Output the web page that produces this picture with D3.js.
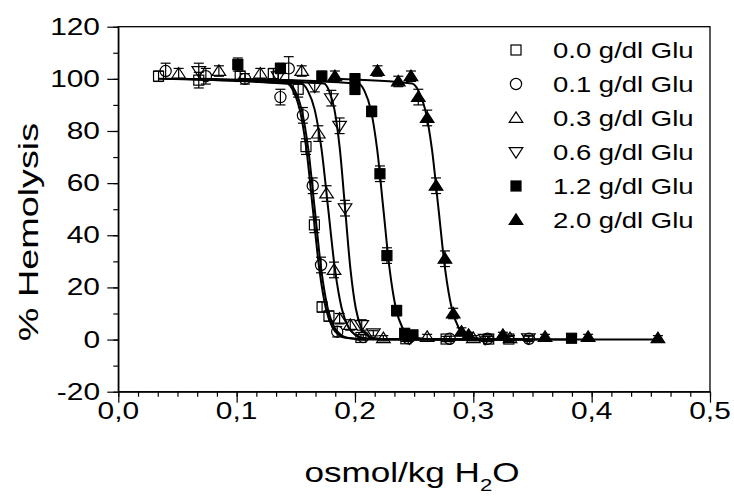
<!DOCTYPE html>
<html>
<head>
<meta charset="utf-8">
<script src="https://cdn.jsdelivr.net/npm/d3@7/dist/d3.min.js"></script>
<style>
  body { margin: 0; background: #fff; }
  text { font-family: Arial, "Liberation Sans", sans-serif; fill: #000; }
</style>
</head>
<body>
<svg id="chart" width="734" height="499"></svg>
<script>
// legend labels and symbol kinds
const labels = ["0.0 g/dl Glu", "0.1 g/dl Glu", "0.3 g/dl Glu", "0.6 g/dl Glu", "1.2 g/dl Glu", "2.0 g/dl Glu"];
const kinds = ["square", "circle", "up", "down", "squareFill", "upFill"];

const xTicks = [0, 0.1, 0.2, 0.3, 0.4, 0.5];
const yTicks = [-20, 0, 20, 40, 60, 80, 100, 120];

// measured points: [osmol/kg, % hemolysis, error]
const glu00 = [[0.034, 101, 2], [0.068, 99.5, 3], [0.103, 101, 2], [0.131, 102, 2], [0.152, 96, 3], [0.1586, 74, 3],
  [0.1657, 44, 3], [0.1722, 12.5, 2], [0.178, 9, 2], [0.205, 0.8, 1], [0.243, 0.3, 1], [0.277, 0.2, 1], [0.313, 0.2, 1], [0.33, 0.2, 1]];
const glu01 = [[0.04, 103, 3], [0.074, 101, 3], [0.107, 100, 2], [0.137, 93, 3], [0.144, 104, 4.5], [0.156, 86, 3],
  [0.1643, 59, 3], [0.1713, 28.6, 3], [0.185, 3, 2], [0.207, 1, 1], [0.245, 0.5, 1], [0.28, 0.3, 1], [0.312, 0.3, 1], [0.347, 0.3, 1]];
const glu03 = [[0.051, 102, 2], [0.085, 103, 2], [0.12, 102, 2], [0.155, 103, 2], [0.169, 79, 3], [0.176, 56, 3],
  [0.1823, 26.7, 3], [0.187, 8, 2], [0.196, 5.6, 2], [0.224, 0.5, 1], [0.261, 1, 1], [0.3, 0.5, 1], [0.331, 0.5, 1]];
const glu06 = [[0.068, 103, 3], [0.135, 101, 2], [0.166, 97, 2], [0.18, 92.6, 3], [0.187, 82, 3], [0.1916, 50.4, 3],
  [0.2057, 5.6, 2], [0.2155, 2.4, 1], [0.246, 0.5, 1], [0.31, 0.3, 1], [0.3465, 0.5, 1]];
const glu12 = [[0.101, 105.5, 2.5], [0.137, 104, 2], [0.172, 101, 2], [0.2, 100, 2], [0.2, 96, 2], [0.2141, 87.5, 2],
  [0.2211, 63.6, 3], [0.227, 32.2, 3], [0.2352, 11.1, 2], [0.242, 2.4, 1], [0.249, 1.8, 1], [0.383, 0.5, 1]];
const glu20 = [[0.183, 101, 2], [0.219, 103, 2], [0.2366, 99, 2], [0.2473, 101, 2], [0.2535, 93, 3], [0.261, 85, 3],
  [0.2685, 59, 3], [0.276, 31, 3], [0.283, 10, 2], [0.29, 3, 1.5], [0.296, 1.8, 1], [0.325, 1.8, 1], [0.3606, 1, 1],
  [0.397, 1, 1], [0.456, 0.5, 1]];

// fitted curves, knots
const fit00 = [[0.034, 100], [0.1424, 98.2], [0.1479, 95.3], [0.1534, 88.1], [0.1589, 73.1], [0.1644, 50], [0.1699, 26.9],
  [0.1754, 11.9], [0.1809, 4.7], [0.1864, 1.8], [0.1919, 0.7], [0.21, 0.1], [0.33, 0]];
const fit01 = [[0.04, 100], [0.144, 98.2], [0.1495, 95.3], [0.155, 88.1], [0.1605, 73.1], [0.166, 50], [0.1715, 26.9],
  [0.177, 11.9], [0.1825, 4.7], [0.188, 1.8], [0.1935, 0.7], [0.21, 0.1], [0.347, 0]];
const fit03 = [[0.051, 100], [0.1546, 98.2], [0.1603, 95.3], [0.166, 88.1], [0.1717, 73.1], [0.1774, 50], [0.1831, 26.9],
  [0.1888, 11.9], [0.1945, 4.7], [0.2002, 1.8], [0.2059, 0.7], [0.225, 0.1], [0.331, 0]];
const fit06 = [[0.068, 100], [0.1737, 98.2], [0.1782, 95.3], [0.1827, 88.1], [0.1872, 73.1], [0.1917, 50], [0.1962, 26.9],
  [0.2007, 11.9], [0.2052, 4.7], [0.2097, 1.8], [0.2142, 0.7], [0.23, 0.1], [0.347, 0]];
const fit12 = [[0.101, 100], [0.2028, 98.2], [0.2081, 95.3], [0.2134, 88.1], [0.2187, 73.1], [0.224, 50], [0.2293, 26.9],
  [0.2346, 11.9], [0.2399, 4.7], [0.2452, 1.8], [0.2505, 0.7], [0.27, 0.1], [0.383, 0]];
const fit20 = [[0.183, 100], [0.2482, 98.2], [0.2538, 95.3], [0.2594, 88.1], [0.265, 73.1], [0.2706, 50], [0.2762, 26.9],
  [0.2818, 11.9], [0.2874, 4.7], [0.293, 1.8], [0.2986, 0.7], [0.32, 0.1], [0.456, 0]];

const points = [glu00, glu01, glu03, glu06, glu12, glu20];
const fits = [fit00, fit01, fit03, fit06, fit12, fit20];

const svg = d3.select("#chart");
const plotL = 118.3, plotR = 710, plotT = 26.7, plotB = 391.7;
const stretch = 1.3; // the original font is drawn wide

const x = d3.scaleLinear().domain([0, 0.5]).range([plotL, plotR]);
const y = d3.scaleLinear().domain([-20, 120]).range([plotB, plotT]);

// frame
svg.append("rect")
  .attr("x", plotL).attr("y", plotT)
  .attr("width", plotR - plotL).attr("height", plotB - plotT)
  .attr("fill", "none").attr("stroke", "#000").attr("stroke-width", 1.3);

// axes with outward ticks
const xMinor = d3.range(0, 31).map(i => i * 0.5 / 30);
const yMinor = d3.range(-20, 121, 10);

svg.append("g").attr("transform", `translate(0,${plotB})`)
  .call(d3.axisBottom(x).tickValues(xMinor).tickSize(5).tickFormat(""))
  .call(g => g.select(".domain").remove());
svg.append("g").attr("transform", `translate(0,${plotB})`)
  .call(d3.axisBottom(x).tickValues(xTicks).tickSize(11).tickSizeOuter(0).tickFormat(""))
  .call(g => g.select(".domain").attr("stroke-width", 1.3));
svg.append("g").attr("transform", `translate(${plotL},0)`)
  .call(d3.axisLeft(y).tickValues(yMinor).tickSize(5).tickFormat(""))
  .call(g => g.select(".domain").remove());
svg.append("g").attr("transform", `translate(${plotL},0)`)
  .call(d3.axisLeft(y).tickValues(yTicks).tickSize(11).tickSizeOuter(0).tickFormat(""))
  .call(g => g.select(".domain").attr("stroke-width", 1.3));
svg.selectAll(".tick line").attr("stroke-width", 1.2);

// tick labels
svg.append("g").selectAll("text").data(xTicks).join("text")
  .attr("transform", d => `translate(${x(d)},${plotB + 27}) scale(${stretch},1)`)
  .attr("text-anchor", "middle")
  .attr("font-size", 23)
  .text(d => d3.format(".1f")(d).replace(".", ","));
svg.append("g").selectAll("text").data(yTicks).join("text")
  .attr("transform", d => `translate(100,${y(d) + 8}) scale(${stretch},1)`)
  .attr("text-anchor", "end")
  .attr("font-size", 23)
  .text(d => d);

// axis titles
const xt = svg.append("text")
  .attr("transform", `translate(412,482) scale(${stretch},1)`)
  .attr("text-anchor", "middle")
  .attr("font-size", 27);
xt.append("tspan").text("osmol/kg H");
xt.append("tspan").attr("font-size", 17).attr("dy", 9).text("2");
xt.append("tspan").attr("dy", -9).text("O");

svg.append("text")
  .attr("transform", `translate(38,232) rotate(-90) scale(1.4,1)`)
  .attr("text-anchor", "middle")
  .attr("font-size", 27)
  .text("% Hemolysis");

// symbols
function drawSymbol(g, kind, s) {
  const filled = kind === "squareFill" || kind === "upFill";
  let p;
  if (kind === "square" || kind === "squareFill") {
    p = g.append("rect").attr("x", -s / 2).attr("y", -s / 2).attr("width", s).attr("height", s);
  } else if (kind === "circle") {
    p = g.append("circle").attr("r", s / 2 + 0.6);
  } else if (kind === "up" || kind === "upFill") {
    const h = s * 1.05, w = s * 0.68;
    p = g.append("path").attr("d", `M0,${-h * 0.58}L${w},${h * 0.42}L${-w},${h * 0.42}Z`);
  } else {
    const h = s * 1.05, w = s * 0.68;
    p = g.append("path").attr("d", `M0,${h * 0.58}L${w},${-h * 0.42}L${-w},${-h * 0.42}Z`);
  }
  p.attr("fill", filled ? "#000" : "none").attr("stroke", "#000").attr("stroke-width", 1.2);
}

// fitted lines
const line = d3.line().x(d => x(d[0])).y(d => y(d[1])).curve(d3.curveMonotoneX);
svg.append("g").selectAll("path").data(fits).join("path")
  .attr("d", line)
  .attr("fill", "none").attr("stroke", "#000").attr("stroke-width", 2);

// error bars and points
points.forEach((pts, i) => {
  const g = svg.append("g");
  pts.forEach(d => {
    const cx = x(d[0]);
    const eb = g.append("g").attr("stroke", "#000").attr("stroke-width", 1.2);
    eb.append("line").attr("x1", cx).attr("x2", cx).attr("y1", y(d[1] - d[2])).attr("y2", y(d[1] + d[2]));
    eb.append("line").attr("x1", cx - 5).attr("x2", cx + 5).attr("y1", y(d[1] + d[2])).attr("y2", y(d[1] + d[2]));
    eb.append("line").attr("x1", cx - 5).attr("x2", cx + 5).attr("y1", y(d[1] - d[2])).attr("y2", y(d[1] - d[2]));
    const m = g.append("g").attr("transform", `translate(${cx},${y(d[1])})`);
    drawSymbol(m, kinds[i], 10);
  });
});

// legend
const lg = svg.append("g");
labels.forEach((lab, i) => {
  const ly = 50 + i * 34;
  const m = lg.append("g").attr("transform", `translate(516,${ly})`);
  drawSymbol(m, kinds[i], 10);
  lg.append("text")
    .attr("transform", `translate(553,${ly + 8}) scale(1.25,1)`)
    .attr("font-size", 22)
    .text(lab);
});
</script>
</body>
</html>
